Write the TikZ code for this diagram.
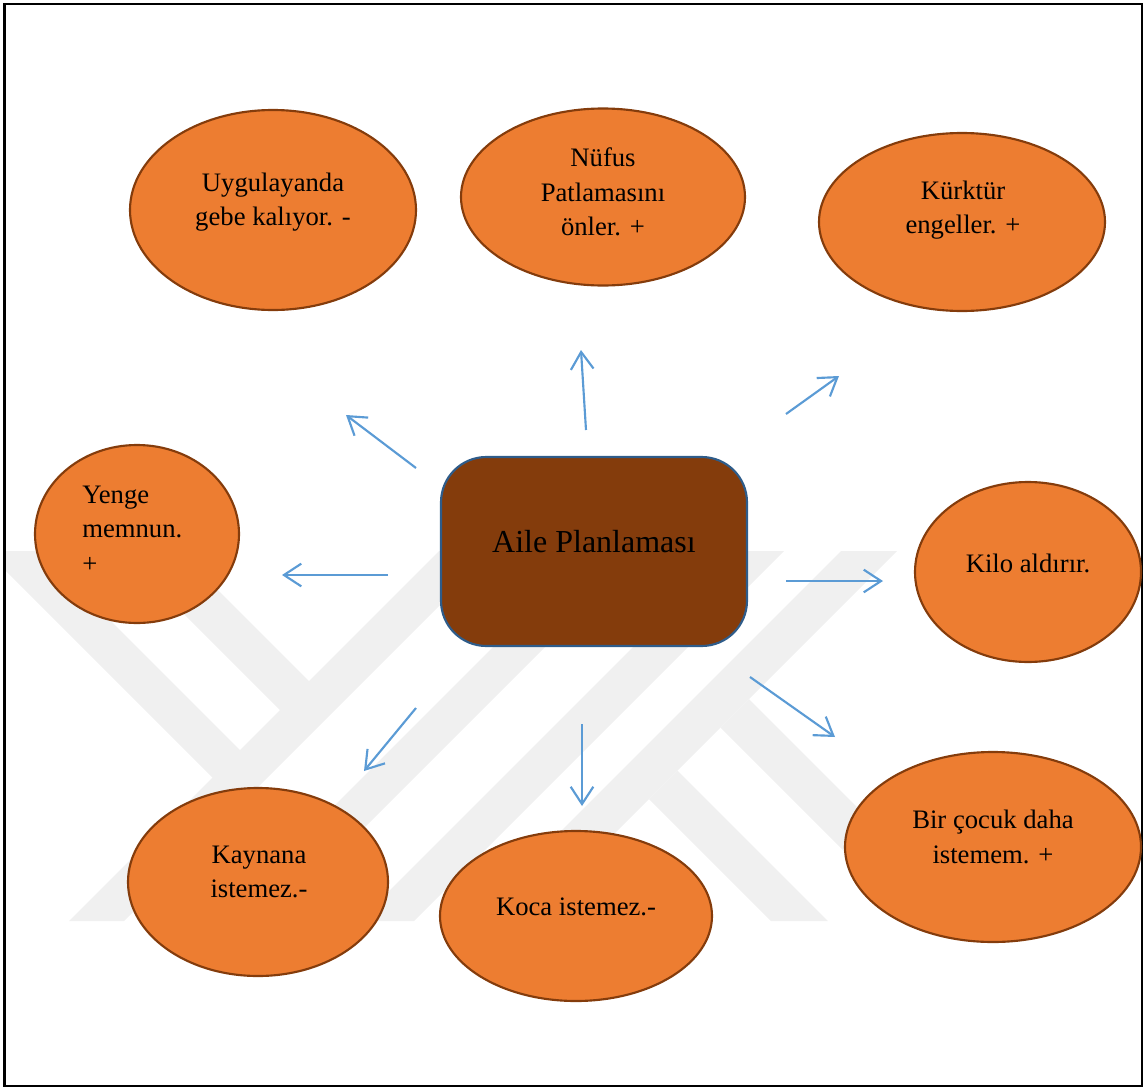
\documentclass[tikz,border=0pt]{standalone}
\usepackage{fontspec}
\setmainfont{Liberation Serif}
\usetikzlibrary{shapes.geometric,arrows.meta}
\definecolor{ellfill}{HTML}{ED7D31}
\definecolor{ellborder}{HTML}{843C0C}
\definecolor{boxfill}{HTML}{843C0C}
\definecolor{boxborder}{HTML}{2E5C8A}
\definecolor{arrowblue}{HTML}{5B9BD5}
\definecolor{wmark}{HTML}{F0F0F0}
\tikzset{
  ell/.style={ellipse, draw=ellborder, fill=ellfill, line width=1.6pt, inner sep=0pt},
  txt/.style={align=center, font=\fontsize{20}{26}\selectfont, inner sep=0pt},
  txtl/.style={align=left, font=\fontsize{20}{26}\selectfont, inner sep=0pt, anchor=west},
  centerbox/.style={rectangle, rounded corners=34pt, draw=boxborder, fill=boxfill, line width=1.6pt,
    minimum width=229.5pt, minimum height=141.75pt, inner sep=0pt},
  arr/.style={draw=arrowblue, line width=1.6pt, -{Straight Barb[length=13pt,width=17pt]}},
}
\begin{document}
\begin{tikzpicture}[x=0.75pt,y=-0.75pt]
\useasboundingbox (0,0) rectangle (1147,1089);
% watermark
\begin{scope}
\clip (5,551) rectangle (1141,921);
\foreach \ca/\cb in {990/1045,1140/1192,1280/1335,1392/1448}{
  \fill[wmark] ({\ca-551},551) -- ({\cb-551},551) -- ({\cb-921},921) -- ({\ca-921},921) -- cycle;
}
% left Y arms (above c=995)
\foreach \da/\db in {-565/-510,-430/-372}{
  \fill[wmark] ({551+\da},551) -- ({551+\db},551) -- ({(995+\db)/2},{(995-\db)/2}) -- ({(995+\da)/2},{(995-\da)/2}) -- cycle;
}
% right K arms (below c=1448)
\foreach \da/\db in {-150/-93,-7/50}{
  \fill[wmark] ({(1448+\da)/2},{(1448-\da)/2}) -- ({(1448+\db)/2},{(1448-\db)/2}) -- ({921+\db},921) -- ({921+\da},921) -- cycle;
}
\end{scope}
% frame
\draw[line width=1.9pt] (4.5,4) rectangle (1142,1086);
% center box
\node[centerbox] (c) at (594,551.5) {};
\node[font=\fontsize{24}{28}\selectfont, inner sep=0pt] (ct) at (594,542) {Aile Planlaması};
% ellipses
\node[ell, minimum width=214.5pt, minimum height=150pt] (e1) at (273,210) {};
\node[txt] (t1) at (273,202) {Uygulayanda\\gebe kalıyor. -};
\node[ell, minimum width=213pt, minimum height=132.75pt] (e2) at (603,197) {};
\node[txt] (t2) at (603,192) {Nüfus\\Patlamasını\\önler. +};
\node[ell, minimum width=214.5pt, minimum height=133.5pt] (e3) at (962,222) {};
\node[txt] (t3) at (963,210) {Kürktür\\engeller. +};
\node[ell, minimum width=153pt, minimum height=133.5pt] (e4) at (137,534) {};
\node[txtl] (t4) at (82,529) {Yenge\\memnun.\\+};
\node[ell, minimum width=169.5pt, minimum height=135pt] (e5) at (1028,572) {};
\node[txt] (t5) at (1028,563) {Kilo aldırır.};
\node[ell, minimum width=195pt, minimum height=141pt] (e6) at (258,882) {};
\node[txt] (t6) at (259,872) {Kaynana\\istemez.-};
\node[ell, minimum width=204pt, minimum height=127.5pt] (e7) at (576,916) {};
\node[txt] (t7) at (576,907) {Koca istemez.-};
\node[ell, minimum width=222pt, minimum height=142.5pt] (e8) at (993,847) {};
\node[txt] (t8) at (993,837) {Bir çocuk daha\\istemem. +};
% arrow end points
\coordinate (a1s) at (416,468); \coordinate (a1e) at (346,415);
\coordinate (a2s) at (586,430); \coordinate (a2e) at (581,350);
\coordinate (a3s) at (786,414); \coordinate (a3e) at (839,376);
\coordinate (a4s) at (388,575); \coordinate (a4e) at (282,575);
\coordinate (a5s) at (786,581); \coordinate (a5e) at (883,581);
\coordinate (a6s) at (416,708); \coordinate (a6e) at (364,771);
\coordinate (a7s) at (582,724); \coordinate (a7e) at (582,806);
\coordinate (a8s) at (750,677); \coordinate (a8e) at (835,737);
\foreach \i in {1,...,8}{ \draw[arr] (a\i s) -- (a\i e); }
\end{tikzpicture}
\end{document}
